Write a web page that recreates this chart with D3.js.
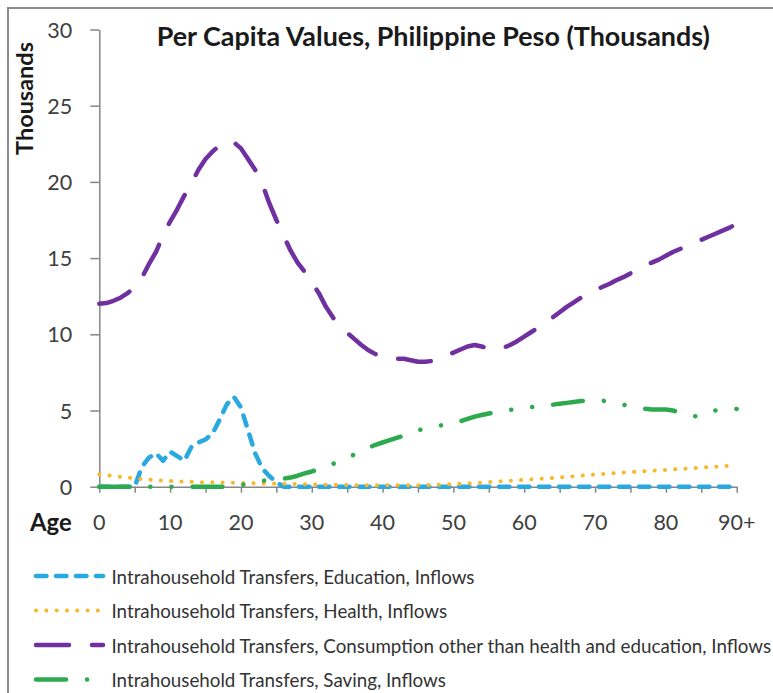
<!DOCTYPE html>
<html>
<head>
<meta charset="utf-8">
<script src="https://cdn.jsdelivr.net/npm/d3@7"></script>
<style>
  body { margin: 0; background: #fff; }
  text { font-family: Lato, "Noto Sans", sans-serif; }
</style>
</head>
<body>
<svg id="chart"></svg>
<script>
// categories (age 0 .. 90+) and tick labels
const ages = d3.range(0, 91);
const xTickLabels = ["0", "10", "20", "30", "40", "50", "60", "70", "80", "90+"];
const yTicks = [0, 5, 10, 15, 20, 25, 30];

const seriesNames = [
  "Intrahousehold Transfers, Education, Inflows",
  "Intrahousehold Transfers, Health, Inflows",
  "Intrahousehold Transfers, Consumption other than health and education, Inflows",
  "Intrahousehold Transfers, Saving, Inflows"
];

// values in thousands of pesos, one per age 0..90
const education = [
  0, 0, 0, 0, 0, 0, 1.3, 1.9, 2.2, 1.7,
  2.3, 2.0, 1.7, 2.6, 2.9, 3.1, 3.5, 4.4, 5.4, 5.9,
  5.2, 3.7, 2.2, 1.2, 0.7, 0.3, 0, 0, 0, 0,
  0, 0, 0, 0, 0, 0, 0, 0, 0, 0,
  0, 0, 0, 0, 0, 0, 0, 0, 0, 0,
  0, 0, 0, 0, 0, 0, 0, 0, 0, 0,
  0, 0, 0, 0, 0, 0, 0, 0, 0, 0,
  0, 0, 0, 0, 0, 0, 0, 0, 0, 0,
  0, 0, 0, 0, 0, 0, 0, 0, 0, 0,
  0
];

const health = [
  0.8, 0.75, 0.7, 0.65, 0.6, 0.55, 0.5, 0.46, 0.42, 0.4,
  0.37, 0.35, 0.33, 0.32, 0.3, 0.3, 0.29, 0.28, 0.27, 0.26,
  0.25, 0.24, 0.23, 0.22, 0.21, 0.2, 0.19, 0.18, 0.17, 0.16,
  0.15, 0.14, 0.13, 0.12, 0.12, 0.11, 0.1, 0.1, 0.1, 0.1,
  0.1, 0.1, 0.1, 0.1, 0.1, 0.1, 0.1, 0.11, 0.13, 0.15,
  0.17, 0.19, 0.21, 0.24, 0.27, 0.3, 0.33, 0.36, 0.39, 0.42,
  0.45, 0.48, 0.51, 0.54, 0.57, 0.6, 0.64, 0.68, 0.72, 0.76,
  0.8, 0.83, 0.86, 0.9, 0.93, 0.96, 0.99, 1.02, 1.05, 1.08,
  1.1, 1.13, 1.16, 1.19, 1.22, 1.25, 1.28, 1.31, 1.34, 1.37,
  1.4
];

const consumption = [
  12.0, 12.05, 12.2, 12.4, 12.7, 13.1, 13.7, 14.6, 15.4, 16.5,
  17.4, 18.2, 19.1, 19.9, 20.8, 21.5, 22.0, 22.4, 22.65, 22.6,
  22.2, 21.5, 20.8, 19.9, 18.6, 17.5, 16.5, 15.5, 14.7, 14.1,
  13.4, 12.7, 11.8, 11.1, 10.5, 10.1, 9.7, 9.3, 8.95, 8.7,
  8.55, 8.45, 8.4, 8.4, 8.3, 8.2, 8.2, 8.25, 8.4, 8.6,
  8.8, 9.0, 9.2, 9.3, 9.2, 9.05, 9.05, 9.1, 9.3, 9.55,
  9.85, 10.15, 10.45, 10.8, 11.1, 11.45, 11.8, 12.1, 12.4, 12.7,
  12.9, 13.1, 13.3, 13.55, 13.75, 14.0, 14.25, 14.5, 14.7, 14.9,
  15.15, 15.4, 15.6, 15.8, 16.0, 16.2, 16.4, 16.6, 16.8, 17.0,
  17.25
];

const saving = [
  0, 0, 0, 0, 0, 0, 0, 0, 0, 0,
  0, 0, 0, 0, 0, 0, 0, 0, 0, 0,
  0.1, 0.2, 0.3, 0.38, 0.45, 0.5, 0.53, 0.6, 0.72, 0.87,
  1.0, 1.15, 1.32, 1.5, 1.7, 1.93, 2.1, 2.3, 2.55, 2.75,
  2.9, 3.05, 3.2, 3.35, 3.55, 3.7, 3.8, 3.9, 4.0, 4.1,
  4.2, 4.3, 4.45, 4.6, 4.7, 4.8, 4.9, 4.98, 5.04, 5.08,
  5.15, 5.22, 5.28, 5.33, 5.38, 5.45, 5.5, 5.56, 5.62, 5.66,
  5.68, 5.65, 5.57, 5.48, 5.38, 5.28, 5.2, 5.12, 5.07, 5.06,
  5.07, 5.0, 4.85, 4.68, 4.62, 4.68, 4.9, 5.0, 5.05, 5.08,
  5.1
];

const width = 773, height = 693;
const svg = d3.select("#chart").attr("width", width).attr("height", height);

// outer chart frame (only left and top edges are in view)
svg.append("rect")
  .attr("x", 8).attr("y", 8)
  .attr("width", 800).attr("height", 720)
  .attr("fill", "none")
  .attr("stroke", "#8c8c8c")
  .attr("stroke-width", 2);

const xScale = d3.scaleLinear().domain([0, 90]).range([99.3, 736.7]);
const yScale = d3.scaleLinear().domain([0, 30]).range([486.7, 29.5]);

// font size that makes a sample string a given width
function fitFont(sample, target, weight) {
  const probe = svg.append("text").attr("font-size", 20).attr("font-weight", weight).text(sample);
  const w = probe.node().getComputedTextLength();
  probe.remove();
  return 20 * target / w;
}

const tickFont = fitFont("25", 25, "normal");
const legendFont = fitFont("Intrahousehold Transfe", 188, "normal");
const titleFont = fitFont("Per Capita Values, Philipp", 303, "bold");
const yTitleFont = fitFont("Thousands", 113, "bold");
const ageFont = fitFont("Age", 41.7, "bold");

// y axis
const yAxis = svg.append("g")
  .attr("transform", `translate(${xScale(0)},0)`)
  .call(d3.axisLeft(yScale).tickValues(yTicks).tickSize(9).tickSizeOuter(0).tickPadding(18));
yAxis.select(".domain").attr("stroke", "#868686").attr("stroke-width", 1.5);
yAxis.selectAll(".tick line").attr("stroke", "#868686").attr("stroke-width", 1.5);
yAxis.selectAll(".tick text")
  .attr("font-size", tickFont)
  .attr("fill", "#404040")
  .attr("dy", "0.35em")
  .style("font-family", "Lato, 'Noto Sans', sans-serif");

// x axis, ticks every 5 years, labels every 10
const xAxis = svg.append("g")
  .attr("transform", `translate(0,${yScale(0)})`)
  .call(d3.axisBottom(xScale).tickValues(d3.range(0, 91, 5)).tickSize(6).tickSizeOuter(0).tickFormat(""));
xAxis.select(".domain").attr("stroke", "#868686").attr("stroke-width", 1.5);
xAxis.selectAll(".tick line").attr("stroke", "#868686").attr("stroke-width", 1.5);

svg.selectAll(".x-label")
  .data(xTickLabels)
  .enter()
  .append("text")
    .attr("class", "x-label")
    .attr("x", (d, i) => xScale(i * 10))
    .attr("y", 521.5)
    .attr("text-anchor", "middle")
    .attr("dominant-baseline", "central")
    .attr("font-size", tickFont)
    .attr("fill", "#404040")
    .text(d => d);

svg.append("text")
  .attr("x", 30)
  .attr("y", 521.5)
  .attr("dominant-baseline", "central")
  .attr("font-size", ageFont)
  .attr("font-weight", "bold")
  .attr("fill", "#1a1a1a")
  .text("Age");

svg.append("text")
  .attr("transform", "translate(23.5,98.5) rotate(-90)")
  .attr("text-anchor", "middle")
  .attr("dominant-baseline", "central")
  .attr("font-size", yTitleFont)
  .attr("font-weight", "bold")
  .attr("fill", "#1a1a1a")
  .text("Thousands");

svg.append("text")
  .attr("x", 156.7)
  .attr("y", 35)
  .attr("dominant-baseline", "central")
  .attr("font-size", titleFont)
  .attr("font-weight", "bold")
  .attr("fill", "#1a1a1a")
  .text("Per Capita Values, Philippine Peso (Thousands)");

// series styles
const styles = [
  { color: "#29a9e0", dash: "10.5,9.5", w: 4.5 },
  { color: "#f9b72a", dash: "0.1,10.2", w: 4 },
  { color: "#7030a0", dash: "33,23", w: 4.5 },
  { color: "#2eaa4e", dash: "30,21,0.1,21,0.1,21", w: 4.5 }
];
const seriesValues = [education, health, consumption, saving];

const line = d3.line()
  .x((d, i) => xScale(ages[i]))
  .y(d => yScale(d));

seriesValues.forEach((vals, k) => {
  svg.append("path")
    .datum(vals)
    .attr("d", line)
    .attr("fill", "none")
    .attr("stroke", styles[k].color)
    .attr("stroke-width", styles[k].w)
    .attr("stroke-dasharray", styles[k].dash)
    .attr("stroke-linecap", "round")
    .attr("stroke-linejoin", "round");
});

// legend
const legendRows = [576, 610.5, 645, 679.5];
seriesNames.forEach((name, k) => {
  const g = svg.append("g").attr("transform", `translate(0,${legendRows[k]})`);
  g.append("line")
    .attr("x1", 36).attr("x2", 103)
    .attr("y1", 0).attr("y2", 0)
    .attr("stroke", styles[k].color)
    .attr("stroke-width", styles[k].w)
    .attr("stroke-dasharray", styles[k].dash)
    .attr("stroke-linecap", "round");
  g.append("text")
    .attr("x", 111.5)
    .attr("y", 0)
    .attr("dominant-baseline", "central")
    .attr("font-size", legendFont)
    .attr("fill", "#333")
    .text(name);
});
</script>
</body>
</html>
